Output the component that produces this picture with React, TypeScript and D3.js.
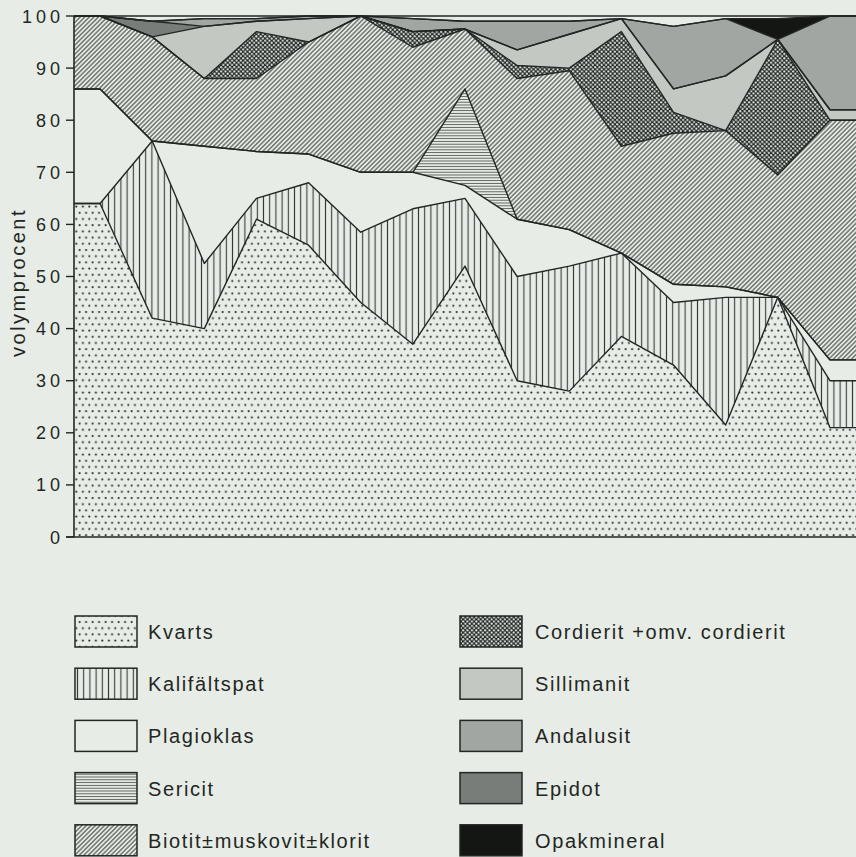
import * as d3 from "d3";

// volymprocent per prov (15 prov, vänster till höger)
const kvarts = [64, 42, 40, 61, 56, 45, 37, 52, 30, 28, 38.5, 33, 21.5, 46, 21];
const kalifaltspat = [0, 34, 12.5, 4, 12, 13.5, 26, 13, 20, 24, 16, 12, 24.5, 0, 9];
const plagioklas = [22, 0, 22.5, 9, 5.5, 11.5, 7, 2.5, 11, 7, 0, 3.5, 2, 0, 4];
const sericit = [0, 0, 0, 0, 0, 0, 0, 18.5, 0, 0, 0, 0, 0, 0, 0];
const biotit = [14, 20, 13, 14, 21.5, 30, 24, 11.5, 27, 30.5, 20.5, 29, 30, 23.5, 46];
const cordierit = [0, 0, 0, 9, 0, 0, 3, 0, 2.5, 0.5, 22, 4, 0, 26, 0];
const sillimanit = [0, 0, 10, 2, 4.5, 0, 0, 0, 3, 6.5, 2.5, 4.5, 10.5, 0, 2];
const epidot = [0, 3, 0, 0, 0, 0, 0, 0, 0, 0, 0, 0, 0, 0, 0];
const andalusit = [0, 0, 1.5, 0.5, 0.5, 0, 2.5, 1.5, 5.5, 2.5, 0, 12, 11, 0, 18];
const opakmineral = [0, 0, 0, 0, 0, 0, 0, 0, 0, 0, 0, 0, 0, 4, 0];

const yTicks = [0, 10, 20, 30, 40, 50, 60, 70, 80, 90, 100];

// stack order as drawn (bottom to top)
const stackKeys = [
  "kvarts", "kali", "plag", "sericit", "biotit",
  "cordierit", "sillimanit", "epidot", "andalusit", "opak",
];
const seriesValues: Record<string, number[]> = {
  kvarts, kali: kalifaltspat, plag: plagioklas, sericit, biotit,
  cordierit, sillimanit, epidot, andalusit, opak: opakmineral,
};

const legendLeft = [
  { key: "kvarts", label: "Kvarts" },
  { key: "kali", label: "Kalifältspat" },
  { key: "plag", label: "Plagioklas" },
  { key: "sericit", label: "Sericit" },
  { key: "biotit", label: "Biotit±muskovit±klorit" },
];
const legendRight = [
  { key: "cordierit", label: "Cordierit +omv. cordierit" },
  { key: "sillimanit", label: "Sillimanit" },
  { key: "andalusit", label: "Andalusit" },
  { key: "epidot", label: "Epidot" },
  { key: "opak", label: "Opakmineral" },
];

const paper = "#e8ece7";
const ink = "#222723";

const fills: Record<string, string> = {
  kvarts: "url(#p-kvarts)",
  kali: "url(#p-kali)",
  plag: paper,
  sericit: "url(#p-sericit)",
  biotit: "url(#p-biotit)",
  cordierit: "url(#p-cord)",
  sillimanit: "#c4c8c3",
  andalusit: "#a2a6a2",
  epidot: "#787d79",
  opak: "#141614",
};

const W = 856;
const H = 857;
const x0 = 74;
const x1 = 856;
const yTop = 16;
const yBase = 537;

type Pt = { x: number; y0: number; y1: number };

export default function App() {
  const n = kvarts.length;
  const x = d3
    .scalePoint<number>()
    .domain(d3.range(n))
    .range([x0, x1])
    .padding(0.5);
  const y = d3.scaleLinear().domain([0, 100]).range([yBase, yTop]);

  const rows = d3.range(n).map((i) => {
    const r: Record<string, number> = {};
    stackKeys.forEach((k) => (r[k] = seriesValues[k][i]));
    return r;
  });
  const stacked = d3.stack<Record<string, number>>().keys(stackKeys)(rows);

  // each sample drawn at its column centre, flat out to the frame edges
  const toPts = (s: d3.Series<Record<string, number>, string>): Pt[] => {
    const pts: Pt[] = s.map((d, i) => ({ x: x(i)!, y0: d[0], y1: d[1] }));
    return [
      { x: x0, y0: pts[0].y0, y1: pts[0].y1 },
      ...pts,
      { x: x1, y0: pts[pts.length - 1].y0, y1: pts[pts.length - 1].y1 },
    ];
  };

  const area = d3
    .area<Pt>()
    .x((d) => d.x)
    .y0((d) => y(d.y0))
    .y1((d) => y(d.y1));
  const topLine = d3
    .line<Pt>()
    .x((d) => d.x)
    .y((d) => y(d.y1));

  const font = "'Liberation Sans', Arial, Helvetica, sans-serif";

  const swatch = (key: string, label: string, bx: number, tx: number, i: number) => {
    const by = 616 + i * 52.2;
    return (
      <g key={key}>
        <rect x={bx} y={by} width={62} height={31} fill={fills[key]} stroke={ink} strokeWidth={1.5} />
        <text x={tx} y={by + 23} fontSize={20} letterSpacing={1.6} fill={ink} fontFamily={font}>
          {label}
        </text>
      </g>
    );
  };

  return (
    <svg
      width={W}
      height={H}
      style={{ position: "absolute", left: 0, top: 0, background: paper }}
    >
      <defs>
        <pattern id="p-kvarts" width={6.5} height={12.4} patternUnits="userSpaceOnUse">
          <rect width={6.5} height={12.4} fill={paper} />
          <circle cx={1.6} cy={2} r={1.1} fill="#2e322f" />
          <circle cx={4.85} cy={8.2} r={1.1} fill="#2e322f" />
        </pattern>
        <pattern id="p-kali" width={6.2} height={10} patternUnits="userSpaceOnUse">
          <rect width={6.2} height={10} fill={paper} />
          <line x1={3.1} y1={0} x2={3.1} y2={10} stroke="#353a36" strokeWidth={1.1} />
        </pattern>
        <pattern id="p-sericit" width={10} height={2.8} patternUnits="userSpaceOnUse">
          <rect width={10} height={2.8} fill={paper} />
          <line x1={0} y1={1.4} x2={10} y2={1.4} stroke="#4f544f" strokeWidth={0.9} />
        </pattern>
        <pattern
          id="p-biotit"
          width={3.2}
          height={10}
          patternUnits="userSpaceOnUse"
          patternTransform="rotate(45)"
        >
          <rect width={3.2} height={10} fill={paper} />
          <line x1={1.6} y1={0} x2={1.6} y2={10} stroke="#5e635e" strokeWidth={1.3} />
        </pattern>
        <pattern id="p-cord" width={4.4} height={4.4} patternUnits="userSpaceOnUse">
          <rect width={4.4} height={4.4} fill="#262a27" />
          <circle cx={1.1} cy={1.1} r={1.05} fill="#e4e8e3" />
          <circle cx={3.3} cy={3.3} r={1.05} fill="#e4e8e3" />
        </pattern>
      </defs>

      {stacked.map((s) => (
        <path key={s.key} d={area(toPts(s)) ?? ""} fill={fills[s.key]} />
      ))}
      {stacked.map((s) => (
        <path
          key={"l-" + s.key}
          d={topLine(toPts(s)) ?? ""}
          fill="none"
          stroke={ink}
          strokeWidth={1.4}
          strokeLinejoin="round"
        />
      ))}

      {/* frame: 100 line, y axis, base line */}
      <line x1={x0} x2={x1} y1={y(100)} y2={y(100)} stroke={ink} strokeWidth={1.4} />
      <line x1={x0} x2={x0} y1={y(100)} y2={y(0)} stroke={ink} strokeWidth={1.6} />
      <line x1={x0 - 8} x2={x1} y1={y(0)} y2={y(0)} stroke={ink} strokeWidth={1.4} />

      {yTicks.map((t) => (
        <g key={t}>
          <line x1={x0 - 8} x2={x0} y1={y(t)} y2={y(t)} stroke={ink} strokeWidth={1.4} />
          <text
            x={x0 - 10}
            y={y(t) + 6.5}
            textAnchor="end"
            fontSize={18}
            letterSpacing={4}
            fill={ink}
            fontFamily={font}
          >
            {t}
          </text>
        </g>
      ))}

      <text
        transform={`translate(25, ${(y(0) + y(100)) / 2 + 6}) rotate(-90)`}
        textAnchor="middle"
        fontSize={20}
        letterSpacing={2.5}
        fill={ink}
        fontFamily={font}
      >
        volymprocent
      </text>

      {legendLeft.map((d, i) => swatch(d.key, d.label, 75, 148, i))}
      {legendRight.map((d, i) => swatch(d.key, d.label, 460, 535, i))}
    </svg>
  );
}
